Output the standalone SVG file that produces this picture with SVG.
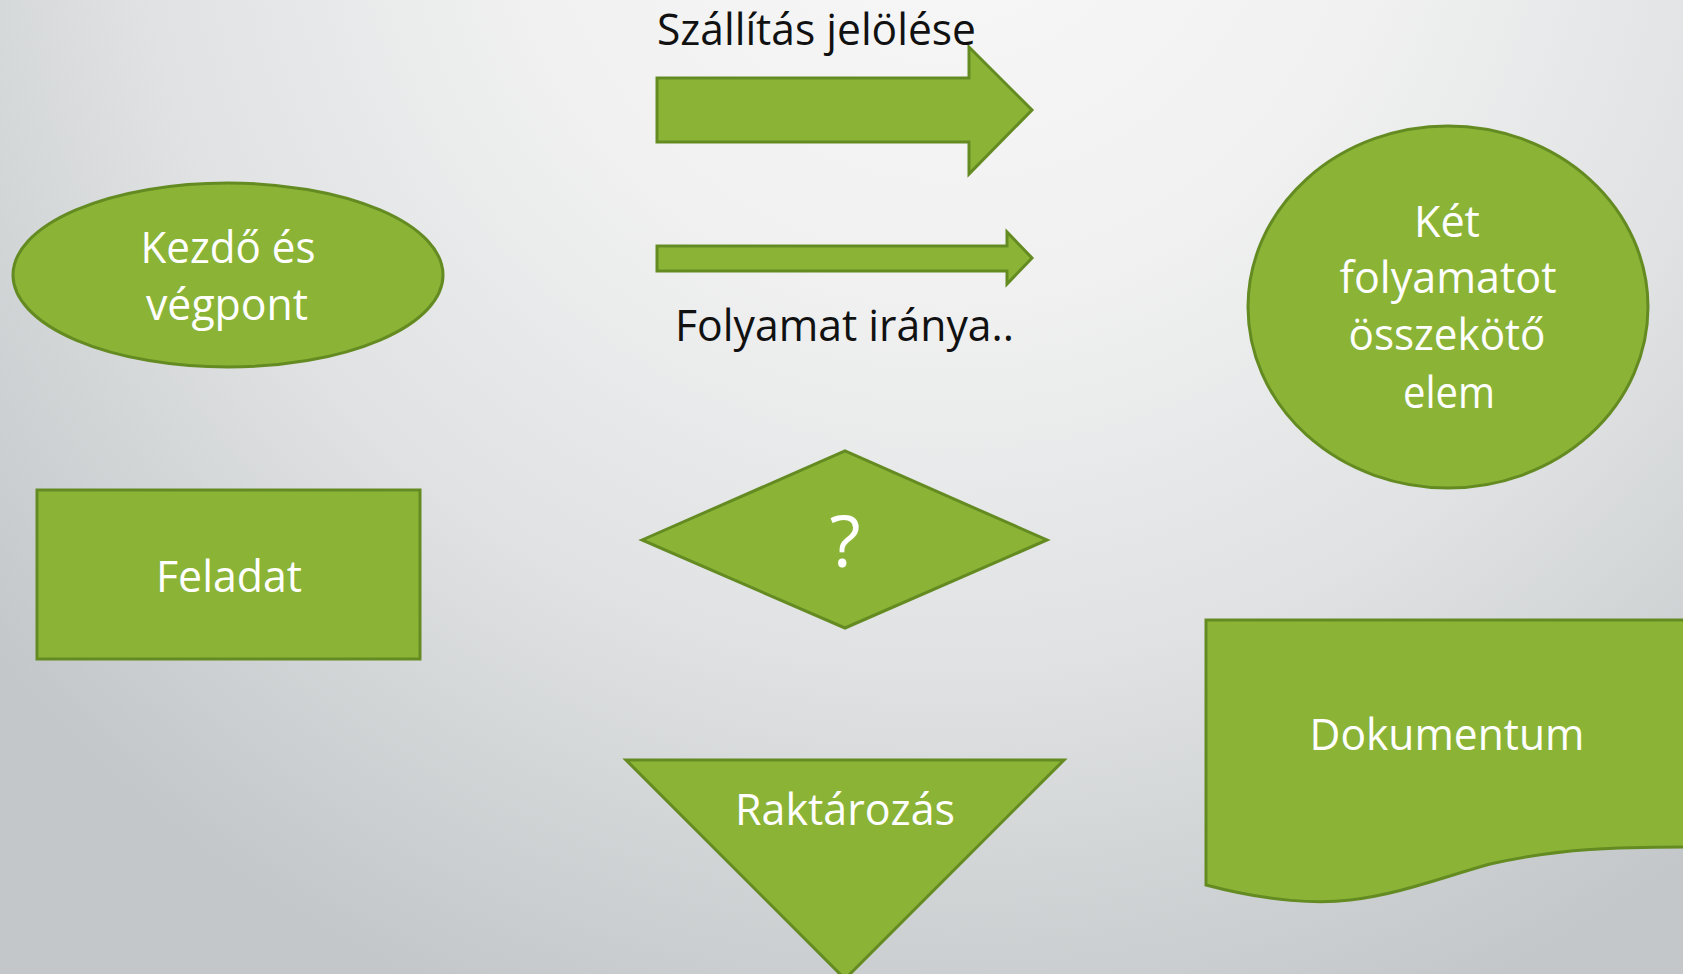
<svg xmlns="http://www.w3.org/2000/svg" width="1683" height="974" viewBox="0 0 1683 974">
<defs>
<radialGradient id="bg" gradientUnits="userSpaceOnUse" cx="950" cy="-150" r="1250">
<stop offset="0" stop-color="#f8f8f8"/>
<stop offset="0.35" stop-color="#f1f1f1"/>
<stop offset="0.65" stop-color="#e0e2e3"/>
<stop offset="1" stop-color="#c3c7c9"/>
</radialGradient>
<style>
.shape{fill:#8bb436;stroke:#648b22;stroke-width:3;stroke-linejoin:miter}
.wt{fill:#ffffff;font-family:"Open Sans","Noto Sans",sans-serif;font-size:43px;text-anchor:middle}
.bt{fill:#111111;font-family:"Open Sans","Noto Sans",sans-serif;font-size:44px}
</style>
</defs>
<rect x="0" y="0" width="1683" height="974" fill="url(#bg)"/>

<g id="arrow-szallitas">
<polygon class="shape" points="657,78 969,78 969,47 1032,110 969,174 969,142 657,142"/>
<text class="bt" x="657" y="45" textLength="319" lengthAdjust="spacingAndGlyphs">Szállítás jelölése</text>
</g>

<g id="arrow-folyamat">
<polygon class="shape" points="657,246 1007,246 1007,232 1032,258 1007,284 1007,271 657,271"/>
<text class="bt" x="675" y="341" textLength="339" lengthAdjust="spacingAndGlyphs">Folyamat iránya..</text>
</g>

<g id="start-end">
<ellipse class="shape" cx="228" cy="275" rx="215" ry="92"/>
<text class="wt" x="228" y="263" textLength="175" lengthAdjust="spacingAndGlyphs">Kezdő és</text>
<text class="wt" x="227" y="320" textLength="162" lengthAdjust="spacingAndGlyphs">végpont</text>
</g>

<g id="connector">
<ellipse class="shape" cx="1448" cy="307" rx="200" ry="181"/>
<text class="wt" x="1447" y="237" textLength="66" lengthAdjust="spacingAndGlyphs">Két</text>
<text class="wt" x="1448" y="293" textLength="217" lengthAdjust="spacingAndGlyphs">folyamatot</text>
<text class="wt" x="1447" y="350" textLength="197" lengthAdjust="spacingAndGlyphs">összekötő</text>
<text class="wt" x="1449" y="408" textLength="92" lengthAdjust="spacingAndGlyphs">elem</text>
</g>

<g id="task">
<rect class="shape" x="37" y="490" width="383" height="169"/>
<text class="wt" x="229" y="592" textLength="146" lengthAdjust="spacingAndGlyphs">Feladat</text>
</g>

<g id="decision">
<polygon class="shape" points="642,540 845,451 1047,540 845,628"/>
<text class="wt" x="845" y="567" style="font-size:72px">?</text>
</g>

<g id="storage">
<polygon class="shape" points="626,760 1064,760 845,979"/>
<text class="wt" x="845" y="825" textLength="220" lengthAdjust="spacingAndGlyphs">Raktározás</text>
</g>

<g id="document">
<path class="shape" d="M1690,620 H1206 V885 C1270,902 1320,904 1350,900 C1400,894 1440,878 1490,864 C1560,848 1620,847 1690,847"/>
<text class="wt" x="1447" y="750" textLength="275" lengthAdjust="spacingAndGlyphs">Dokumentum</text>
</g>

<g id="connectors"></g>
</svg>
